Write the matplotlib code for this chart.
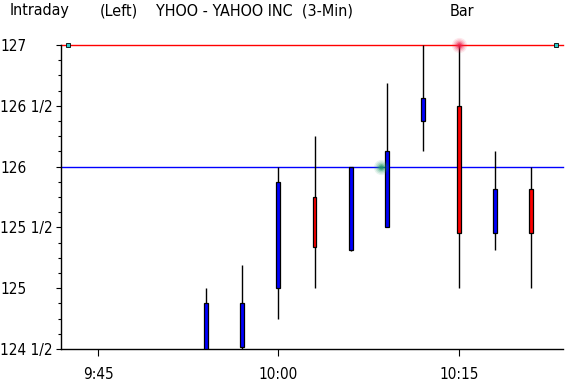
import matplotlib
matplotlib.use("Agg")
import matplotlib.pyplot as plt
from matplotlib.ticker import FixedLocator, MultipleLocator

plt.rcParams['font.family'] = ['Liberation Sans Narrow', 'DejaVu Sans']
plt.rcParams['font.stretch'] = 'condensed'

# ---- data ----
times = ["9:54", "9:57", "10:00", "10:03", "10:06", "10:09", "10:12", "10:15", "10:18", "10:21"]
opens = [124.5, 124.515, 125.0, 125.75, 125.3125, 125.5, 126.375, 126.5, 125.45, 125.8125]
highs = [125.0, 125.1875, 126.0, 126.25, 126.0, 126.6875, 127.0, 127.0, 126.125, 126.0]
lows = [124.45, 124.5, 124.75, 125.0, 125.31, 125.5, 126.125, 125.0, 125.3125, 125.0]
closes = [124.875, 124.875, 125.875, 125.34, 126.0, 126.125, 126.5625, 125.45, 125.8125, 125.45]
level_values = [127.0, 126.0]
level_colors = ["#ff0000", "#0000ff"]
x_tick_labels = ["9:45", "10:00", "10:15"]
y_tick_values = [124.5, 125.0, 125.5, 126.0, 126.5, 127.0]
y_tick_labels = ["124 1/2", "125", "125 1/2", "126", "126 1/2", "127"]
glow_points = [("10:08.5", 126.0, "#1f9a6a"), ("10:15", 127.0, "#f0204a")]
title_parts = ["Intraday", "(Left)", "YHOO - YAHOO INC  (3-Min)", "Bar"]


def to_min(t):
    h, m = t.split(":")
    return int(h) * 60 + float(m)


W, H = 566, 384
fig = plt.figure(figsize=(W / 100, H / 100), dpi=100)
ax = fig.add_axes([61 / W, (H - 349) / H, (563 - 61) / W, (349 - 45) / H])

xs = [to_min(t) for t in times]

# level lines
for v, c in zip(level_values, level_colors):
    ax.axhline(v, color=c, lw=1.0, zorder=1, clip_on=False)

# small cyan end markers on the top line
xl = (to_min("9:45") - 37 / 12, to_min("9:45") + 464 / 12)
ax.plot([xl[0] + 0.6, xl[1] - 0.6], [level_values[0]] * 2, ls="none", marker="s",
        ms=3.2, mfc="#30c8c8", mec="black", mew=0.6, clip_on=False, zorder=5)

# candles
bw = 0.33
for x, o, h, l, c in zip(xs, opens, highs, lows, closes):
    ax.vlines(x, l, h, color="black", lw=1.0, zorder=2)
    col = "#0000ff" if c >= o else "#ff0000"
    ax.bar(x, abs(c - o), bottom=min(o, c), width=bw, color=col,
           edgecolor="black", linewidth=0.9, zorder=3)

# glow markers
for t, v, c in glow_points:
    gx = to_min(t)
    for s, a in [(120, 0.10), (80, 0.15), (48, 0.22), (24, 0.4), (9, 0.7)]:
        ax.scatter([gx], [v], s=s, color=c, alpha=a, lw=0, zorder=6, clip_on=False)

ax.set_xlim(*xl)
ax.set_ylim(124.5, 127.0)

for s in ["top", "right"]:
    ax.spines[s].set_visible(False)
for s in ["left", "bottom"]:
    ax.spines[s].set_linewidth(1.0)

ax.xaxis.set_major_locator(FixedLocator([to_min(t) for t in x_tick_labels]))
ax.set_xticklabels(x_tick_labels)
ax.yaxis.set_major_locator(FixedLocator(y_tick_values))
ax.set_yticklabels(y_tick_labels)
ax.yaxis.set_minor_locator(MultipleLocator(0.125))

ax.tick_params(axis="x", which="major", length=5, width=0.8, pad=8, labelsize=11)
ax.tick_params(axis="y", which="major", length=3.6, width=0.8, pad=40, labelsize=11)
ax.tick_params(axis="y", which="minor", length=2.2, width=0.8)
for lab in ax.get_yticklabels():
    lab.set_horizontalalignment("left")

# title line
title_x = [10, 100, 156, 450]
for txt, px in zip(title_parts, title_x):
    fig.text(px / W, 1 - 11 / H, txt, ha="left", va="center", fontsize=11.5)

fig.savefig("out.png", dpi=100)
